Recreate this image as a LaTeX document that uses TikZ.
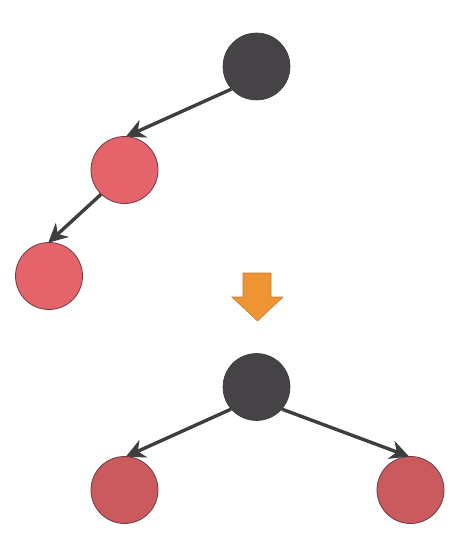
\documentclass[tikz,border=0pt]{standalone}
\usetikzlibrary{arrows.meta}
\definecolor{blk}{HTML}{454346}
\definecolor{blkline}{HTML}{3A383B}
\definecolor{redA}{HTML}{E5646B}
\definecolor{redB}{HTML}{CB5A5F}
\definecolor{redline}{HTML}{6E3B3D}
\definecolor{org}{HTML}{EF9433}
\definecolor{orgline}{HTML}{C27A34}
\definecolor{arr}{HTML}{3E3D40}
\tikzset{
  blacknode/.style={circle, inner sep=0pt, minimum size=67pt, fill=blk, draw=blkline, line width=0.6pt},
  rednode/.style={circle, inner sep=0pt, minimum size=67pt, fill=redA, draw=redline, line width=0.8pt},
  rednodeB/.style={rednode, fill=redB},
  edge/.style={draw=arr, line width=3.4pt, -{Stealth[length=19pt, width=19pt, inset=6pt]}, shorten >=-1pt},
}
\begin{document}
\begin{tikzpicture}[x=1pt, y=-1pt]
\useasboundingbox (0,0) rectangle (458,545);
% top tree
\node[blacknode] (b1) at (256.5,66.5) {};
\node[rednode] (r1) at (124.5,170) {};
\node[rednode] (r2) at (49,276) {};
\draw[edge] (b1.222) -- (r1.86);
\draw[edge] (r1.226) -- (r2.north);
% orange down arrow
\draw[fill=org, draw=orgline, line width=0.6pt]
  (243,273) -- (271,273) -- (271,297) -- (283,297) -- (257.5,321) -- (232,297) -- (243,297) -- cycle;
% bottom tree
\node[blacknode] (b2) at (256.5,387) {};
\node[rednodeB] (r3) at (124.5,490) {};
\node[rednodeB] (r4) at (410.5,490) {};
\draw[edge] (b2.221) -- (r3.86);
\draw[edge] (b2.319) -- (r4.94);
\end{tikzpicture}
\end{document}
